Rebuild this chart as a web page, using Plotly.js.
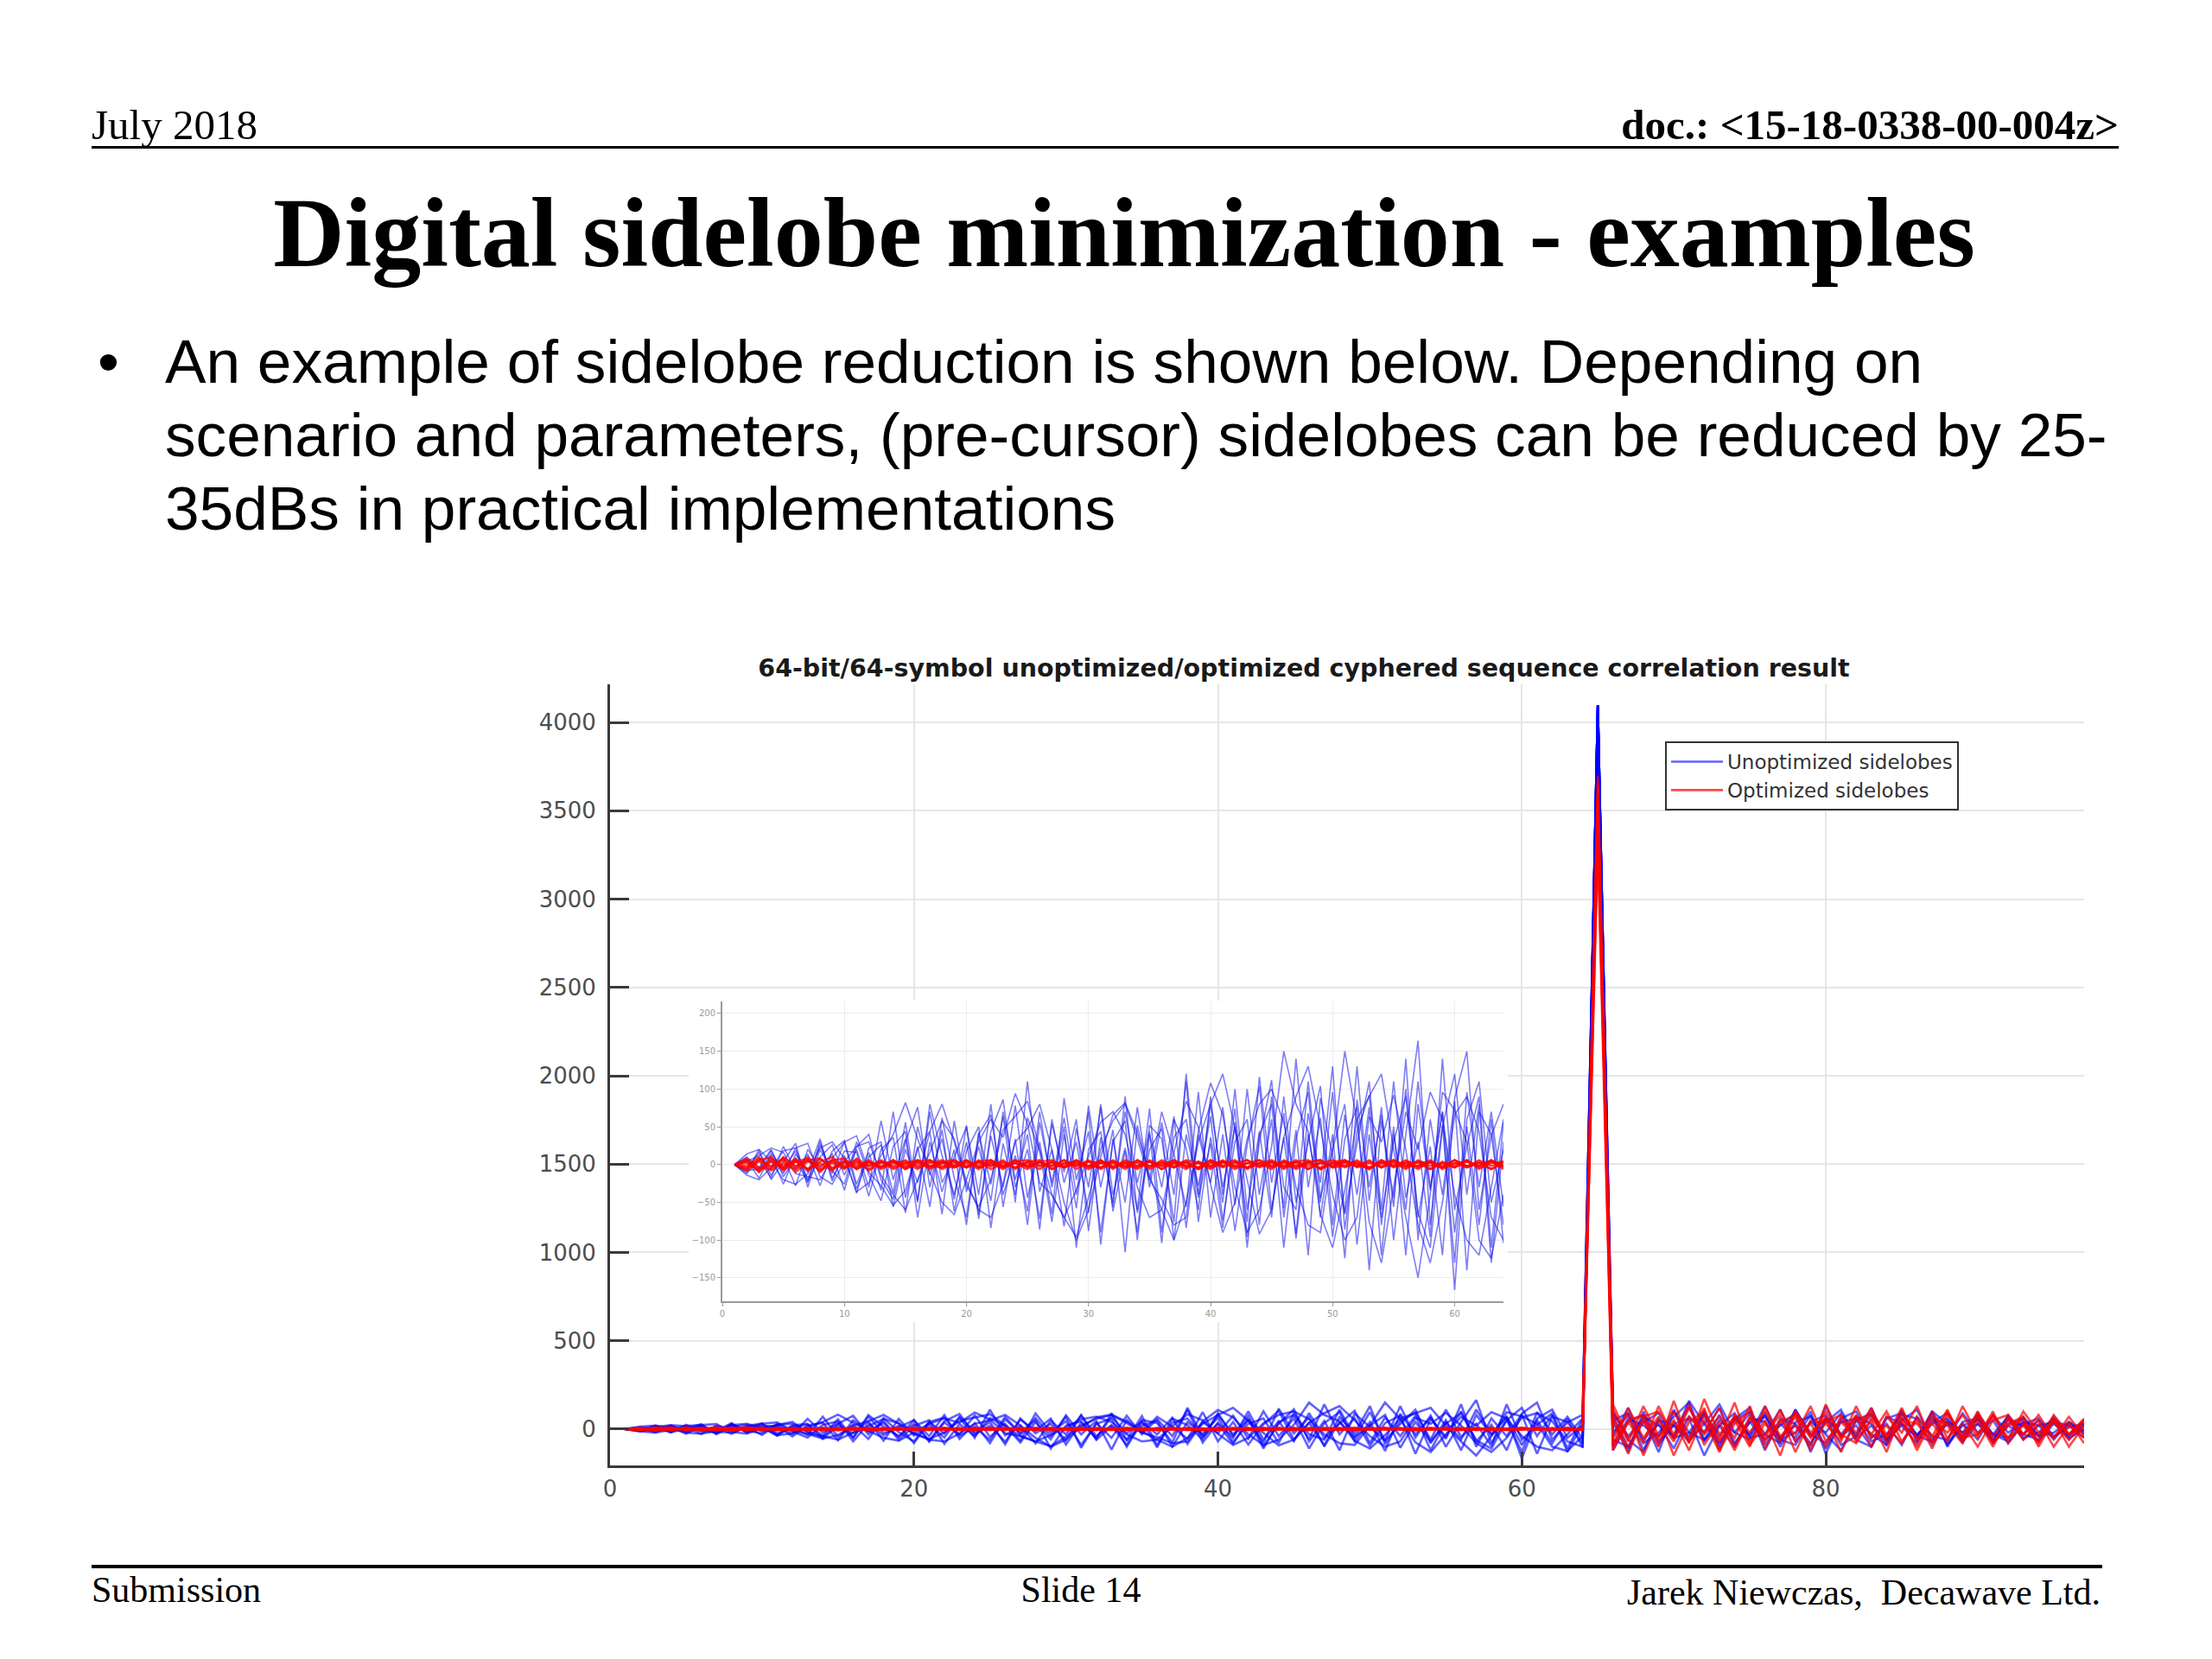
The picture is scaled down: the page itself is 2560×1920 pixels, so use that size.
<!DOCTYPE html>
<html>
<head>
<meta charset="utf-8">
<script src="https://cdn.plot.ly/plotly-3.0.1.min.js"></script>
<style>
  html, body { margin: 0; padding: 0; background: #fff; }
  body { width: 2560px; height: 1920px; position: relative; overflow: hidden; }
  .t { position: absolute; white-space: nowrap; color: #000; line-height: 1; z-index: 5; }
  .serif { font-family: "Liberation Serif", "Times New Roman", serif; }
  .sans { font-family: "Liberation Sans", Arial, sans-serif; }
  .rule { position: absolute; background: #000; z-index: 5; }
</style>
</head>
<body>
<div id="main" style="position:absolute;left:0;top:0;width:2560px;height:1920px;z-index:1"></div>
<div id="inset" style="position:absolute;left:797px;top:1158px;width:948px;height:372px;z-index:2"></div>

<div class="t serif" style="left:106px;top:120px;font-size:49px;">July 2018</div>
<div class="t serif" style="right:108px;top:120px;font-size:49px;font-weight:bold;">doc.: &lt;15-18-0338-00-004z&gt;</div>
<div class="rule" style="left:106px;top:169px;width:2346px;height:3px;"></div>
<div class="t serif" style="left:-199px;width:3000px;text-align:center;top:213px;font-size:114px;font-weight:bold;">Digital sidelobe minimization - examples</div>
<div class="t sans" style="left:113px;top:376px;font-size:71.2px;line-height:85px;">•</div>
<div class="t sans" style="left:191px;top:376px;font-size:71.2px;line-height:85px;">An example of sidelobe reduction is shown below. Depending on<br>scenario and parameters, (pre-cursor) sidelobes can be reduced by 25-<br>35dBs in practical implementations</div>
<div class="rule" style="left:106px;top:1811px;width:2327px;height:4px;"></div>
<div class="t serif" style="left:106px;top:1819px;font-size:42px;">Submission</div>
<div class="t serif" style="left:1051px;width:400px;text-align:center;top:1819px;font-size:42px;">Slide 14</div>
<div class="t serif" style="right:129px;top:1822px;font-size:42px;">Jarek Niewczas,&nbsp; Decawave Ltd.</div>

<script>
// ---------------- DATA ----------------
const CHART_TITLE = "64-bit/64-symbol unoptimized/optimized cyphered sequence correlation result";
const NAME_UNOPT = "Unoptimized sidelobes";
const NAME_OPT = "Optimized sidelobes";

const X_TICKS = [0, 20, 40, 60, 80];
const Y_TICKS = [0, 500, 1000, 1500, 2000, 2500, 3000, 3500, 4000];
const INSET_X_TICKS = [0, 10, 20, 30, 40, 50, 60];
const INSET_Y_TICKS = [-150, -100, -50, 0, 50, 100, 150, 200];

const PEAK_LAG = 65;
const UNOPT_PEAK = 4096;
const OPT_PEAKS = [3700, 3660, 3600, 3540, 3480, 3420, 3360, 3300];

// Unoptimized (blue) pre-cursor sidelobes, lags 1..64
const blue1 = [0,8,-10,14,-6,18,-22,10,26,-14,20,-30,58,-20,34,-48,80,12,-40,30,-66,44,86,-30,20,-72,54,-10,60,-88,36,-50,70,-24,44,-104,60,22,-60,90,-40,74,-96,30,112,-70,46,-120,88,10,-64,130,-48,76,-100,40,164,-80,52,-130,96,-30,70,-56];
const blue2 = [0,-12,6,-18,24,-8,14,-28,18,32,-26,16,-34,70,-44,24,-56,62,-18,-70,42,-26,64,-50,110,-36,20,-82,48,-30,76,-62,18,-90,52,34,-76,120,-44,28,-84,56,-110,40,80,-58,140,-30,62,-96,34,76,-140,58,-44,100,-70,24,-120,88,150,-60,38,80];
const blue3 = [0,14,20,4,-20,-26,-12,22,30,8,-36,-24,12,40,82,34,-10,-50,-66,-20,30,60,36,94,54,-24,-40,-70,-96,-44,20,58,80,34,-20,-46,-80,-70,44,108,66,-30,-90,-60,24,150,80,44,-66,-110,-34,60,90,120,20,-70,-150,-40,96,72,30,-100,-124,-40];
const blue4 = [0,-6,16,-14,10,-28,20,-4,14,-34,24,40,-20,-46,30,76,-30,46,-62,18,50,-84,28,-40,62,18,-76,40,-58,78,-30,46,-116,52,-20,70,14,-56,96,-70,40,-88,26,104,-60,36,-92,68,-24,130,-86,44,92,-60,110,-44,30,-96,140,-60,24,90,-110,56];
const blue5 = [0,10,-4,20,-16,8,-24,30,-18,12,-38,22,30,-56,20,-24,44,-66,58,-36,24,-48,70,-20,40,-86,60,-24,30,-64,80,-40,22,-60,74,-90,36,60,-40,80,-30,50,-76,116,-24,68,-98,40,-50,96,-66,28,110,-80,50,-120,80,-34,70,-166,60,110,-50,20];
const blue6 = [0,-14,-20,-4,18,22,28,-16,-26,4,24,30,-14,-40,-60,-20,16,58,34,-22,-60,-70,-26,30,48,80,20,-50,-100,-60,10,66,82,42,-14,-60,-100,-50,30,80,120,48,-20,-92,-60,36,90,130,50,-40,-100,-70,64,30,92,20,-80,-130,-50,66,90,44,-70,-100];
const blue7 = [0,6,-18,12,-26,14,-10,34,-22,18,16,-42,20,36,-64,50,-14,34,-46,52,-72,38,-30,78,-44,30,-66,88,-20,44,-90,30,58,-100,40,-30,64,-84,40,-24,76,-54,100,-40,60,-110,34,96,-70,40,-124,86,-30,66,-56,140,-100,60,-40,84,-140,70,40,-80];
const blue8 = [0,-10,20,-20,4,28,-30,20,-8,-26,30,-14,-48,24,44,-70,30,-36,20,-80,40,66,-40,12,-62,70,-30,50,-110,20,44,-56,90,-64,20,48,-100,40,-28,64,-74,30,60,-80,90,-30,-60,110,-44,20,80,-106,40,-70,30,90,-64,-110,50,120,-40,80,-130,30];
const blue9 = [0,4,12,22,16,-12,-16,-20,8,30,38,-10,-28,-54,-34,20,44,80,30,-28,-56,-20,46,64,84,20,-40,-70,-34,10,56,70,40,-30,-70,-60,16,84,50,-26,-90,-50,34,80,100,56,-30,-80,-90,20,150,56,-76,-130,-30,70,20,96,60,-40,-100,-120,-30,60];
const blue10 = [0,-8,-6,18,-12,22,-20,26,-12,30,-32,10,26,-38,56,-50,70,-24,10,50,-40,80,-56,34,-80,56,-24,62,-40,70,-106,34,-50,76,-30,56,-40,110,-76,36,-50,100,-60,44,-70,90,-50,30,104,-80,66,-40,76,-120,40,-60,110,-30,70,-90,50,-80,60,-104];

// Unoptimized (blue) post-cursor sidelobes, lags 66..97
const blue1Post = [-90,60,20,-40,110,-70,30,140,-20,-60,80,-100,40,70,-30,-120,50,90,-60,20,-80,100,30,-50,60,-30,-70,40,20,-50,30,-20];
const blue2Post = [70,-110,40,90,-50,-20,100,-80,60,-30,130,-60,-90,40,80,-40,20,-100,60,90,-40,-70,50,-20,80,-60,30,60,-40,-20,40,-30];
const blue3Post = [-40,120,-80,-20,70,150,-60,20,-100,60,40,-70,110,-30,-80,60,100,-50,30,-90,70,-40,-60,90,-20,50,-80,30,60,-40,10,30];
const blue4Post = [100,-60,-130,50,20,-70,90,-40,60,120,-90,30,-50,80,-110,40,60,-30,-90,50,110,-60,30,-40,70,-80,20,-30,50,-60,40,-10];
const blue5Post = [-120,40,80,-90,30,60,-150,20,90,-50,-30,110,-70,40,-20,90,-60,-100,70,30,-40,80,-90,20,50,-30,70,-50,-20,60,-30,20];
const blue6Post = [50,90,-60,30,-110,70,-20,120,-80,40,-60,20,90,-130,60,-30,70,30,-70,100,-40,60,-80,30,-60,80,-20,40,-70,30,-40,50];
const blue7Post = [-60,-100,70,20,-40,130,-70,50,-20,90,-120,60,30,-80,40,110,-50,20,-90,60,-30,40,90,-70,30,-40,60,-60,20,40,-50,0];
const blue8Post = [90,-40,60,-130,100,-20,-60,80,-90,40,70,-50,20,-100,130,-40,50,-70,-30,80,60,-90,40,-20,30,-70,50,20,-40,70,-30,30];
const blue9Post = [-20,80,-120,60,-50,160,30,-90,70,-40,90,-60,-20,100,-140,50,-30,80,-60,110,-70,30,60,-80,90,-30,-50,70,-40,50,-60,20];
const blue10Post = [40,-130,100,-70,20,-40,80,-110,50,100,-30,-80,110,-40,60,-90,-40,120,-70,30,-50,100,-100,40,60,-70,80,-30,-60,40,20,-50];

// Optimized (red) pre-cursor sidelobes, lags 1..64
const red1 = [0,4,-6,8,-2,6,-8,4,10,-4,2,-6,4,-2,6,-4,2,6,-4,2,-6,4,-2,6,-4,2,-2,6,-6,4,2,-4,6,-2,4,-6,2,4,-4,6,-2,4,-6,2,6,-2,-4,4,-6,2,4,-2,6,-4,2,-6,4,2,-4,6,-2,4,-6,2];
const red2 = [0,-6,8,-4,6,-10,4,-2,6,8,-6,4,-4,6,-2,4,-6,2,4,-4,6,-2,4,-4,2,-6,4,-2,6,-4,4,-2,2,-6,4,-2,6,-4,2,-2,4,-6,2,6,-4,2,-2,4,6,-4,-2,6,-4,2,-2,6,-4,4,-6,2,4,-2,6,-4];
const red3 = [0,8,-4,-6,10,-2,6,-8,2,-6,8,-2,4,-6,2,6,-4,4,-2,6,-4,2,-6,4,6,-2,4,-4,2,-2,6,-6,4,2,-4,6,-2,2,-6,4,-4,2,6,-2,4,-6,4,-2,2,6,-4,2,-6,4,-2,4,2,-6,4,-2,6,-4,2,4];
const red4 = [0,-4,6,10,-8,4,-6,8,-4,2,-4,6,-6,2,4,-2,6,-6,2,-4,4,6,-2,2,-6,4,-2,6,-2,4,-6,2,-4,6,-2,4,-4,6,2,-6,4,-2,-4,6,-2,4,2,-6,4,-2,6,-4,2,-2,4,-4,6,-2,2,-4,6,-6,4,-2];
const red5 = [0,6,-10,4,-4,8,-6,2,-8,6,-2,4,-4,6,-6,2,-2,4,6,-4,2,-2,6,-6,4,-2,2,-4,6,-2,-4,6,-2,4,-6,2,4,-2,-4,6,-2,4,-4,2,-6,6,-2,2,-4,4,6,-2,-4,2,6,-2,4,-6,2,-4,4,-2,6,-2];
const red6 = [0,-8,4,-2,8,-4,10,-6,4,-2,6,-8,2,4,-4,6,-2,-4,6,-2,4,-6,2,-4,4,6,-6,2,-2,6,-4,4,-2,-4,6,-2,2,-6,4,-2,6,-4,2,-2,4,-4,6,-6,2,-2,4,2,-6,6,-4,2,-2,4,-4,6,-2,2,-6,4];
const red7 = [0,2,-8,6,-6,4,8,-10,6,-4,4,-2,6,-4,2,-6,4,2,-2,6,-4,2,-4,6,-2,4,-6,2,4,-2,6,-4,2,-2,4,-6,6,-2,4,-4,2,6,-4,2,-2,4,-6,2,6,-4,2,-2,4,-4,6,-2,-2,6,-4,2,-4,6,-2,4];
const red8 = [0,-2,10,-8,2,-6,6,8,-6,4,-6,2,-2,4,-6,4,6,-2,-4,4,-2,6,-4,2,-2,4,6,-4,2,-6,2,4,-6,6,-2,2,-4,4,-6,2,4,-2,6,-4,2,-2,4,6,-6,2,-2,4,-4,6,-2,2,-6,4,-2,6,-4,2,4,-6];

// Optimized (red) post-cursor sidelobes, lags 66..97
const red1Post = [110,-70,130,-40,50,-120,80,-60,150,-90,30,-70,100,-20,60,-130,50,80,-50,40,-100,70,20,-80,90,-40,60,-60,30,-50,70,-40];
const red2Post = [-90,120,-50,70,-150,40,100,-70,50,-100,130,-40,20,-90,140,-50,70,-30,100,-70,50,-110,80,-30,70,-80,20,50,-70,80,-30,20];
const red3Post = [50,-140,70,100,-30,140,-90,40,-120,60,-50,110,-70,30,-100,70,-20,120,-80,50,30,-70,100,-50,-30,80,-60,100,-20,40,-60,50];
const red4Post = [-120,40,-80,130,-50,70,-20,120,-100,70,-30,80,-130,50,30,-70,130,-50,20,-80,70,-40,110,-70,50,-100,60,-30,80,-50,40,-80];
const red5Post = [140,-50,40,-100,160,-70,50,-130,80,-20,100,-50,70,-120,40,80,-70,50,-130,100,-50,30,-70,130,-30,70,-50,20,-80,60,-30,50];
const red6Post = [-50,90,-150,50,-70,120,-30,70,-50,130,-110,40,80,-50,100,-30,-80,60,-40,120,-70,100,-50,30,-100,50,80,-30,50,-100,20,-50];
const red7Post = [70,-100,50,-50,100,-80,170,-30,70,-70,50,-150,100,-40,70,-50,80,-100,70,-20,130,-80,40,-50,100,-70,30,70,-100,50,-30,60];
const red8Post = [-100,50,80,-70,40,-50,120,-120,30,100,-70,50,-30,130,-70,40,-50,100,-30,70,-120,50,-20,80,-50,100,-80,30,-40,50,-100,20];

const bluePre  = [blue1, blue2, blue3, blue4, blue5, blue6, blue7, blue8, blue9, blue10];
const bluePost = [blue1Post, blue2Post, blue3Post, blue4Post, blue5Post, blue6Post, blue7Post, blue8Post, blue9Post, blue10Post];
const redPre   = [red1, red2, red3, red4, red5, red6, red7, red8];
const redPost  = [red1Post, red2Post, red3Post, red4Post, red5Post, red6Post, red7Post, red8Post];

// ---------------- BUILD ----------------
function lagsFrom(start, n) { return Array.from({length: n}, (_, i) => start + i); }

function fullSeries(pre, peak, post) {
  const x = lagsFrom(1, pre.length).concat([PEAK_LAG], lagsFrom(PEAK_LAG + 1, post.length));
  const y = pre.concat([peak], post);
  return {x, y};
}

const BLUE_MAIN = 'rgba(0,0,255,0.62)';
const RED_MAIN = 'rgba(255,0,0,0.72)';
const tickFont = {family: 'DejaVu Sans, sans-serif', size: 26, color: '#4d4d4d'};

const mainTraces = [];
bluePre.forEach((pre, i) => {
  const s = fullSeries(pre, UNOPT_PEAK, bluePost[i]);
  mainTraces.push({type: 'scatter', mode: 'lines', x: s.x, y: s.y, name: NAME_UNOPT,
    legendgroup: 'u', showlegend: i === 0, line: {color: BLUE_MAIN, width: 2.6}, hoverinfo: 'skip'});
});
redPre.forEach((pre, i) => {
  const s = fullSeries(pre, OPT_PEAKS[i], redPost[i]);
  mainTraces.push({type: 'scatter', mode: 'lines', x: s.x, y: s.y, name: NAME_OPT,
    legendgroup: 'o', showlegend: i === 0, line: {color: RED_MAIN, width: 2.6}, hoverinfo: 'skip'});
});

const PL = 706, PR = 2412, PT = 792, PB = 1696, W = 2560, H = 1920;

const mainLayout = {
  width: W, height: H,
  margin: {l: PL, r: W - PR, t: PT, b: H - PB, pad: 0},
  paper_bgcolor: '#ffffff', plot_bgcolor: '#ffffff',
  title: {text: '<b>' + CHART_TITLE + '</b>', x: 1509 / W, xanchor: 'center', y: 1 - 773 / H, yanchor: 'middle',
          font: {family: 'DejaVu Sans, sans-serif', size: 28.5, color: '#1a1a1a'}},
  showlegend: true,
  legend: {x: (1927 - PL) / (PR - PL), y: (PB - 858) / (PB - PT), xanchor: 'left', yanchor: 'top',
           bgcolor: '#ffffff', bordercolor: '#333333', borderwidth: 2, itemwidth: 60,
           font: {family: 'DejaVu Sans, sans-serif', size: 23, color: '#333333'}, tracegroupgap: 0},
  xaxis: {range: [0, 97], tickvals: X_TICKS, showgrid: true, gridcolor: '#e6e6e6', gridwidth: 2,
          zeroline: false, showline: true, linecolor: '#3a3a3a', linewidth: 3, ticks: 'inside', ticklen: 16,
          tickwidth: 3, tickcolor: '#3a3a3a', tickfont: tickFont, ticklabelstandoff: 2, fixedrange: true},
  yaxis: {range: [-206, 4216], tickvals: Y_TICKS, tickformat: 'd', showgrid: true, gridcolor: '#e6e6e6', gridwidth: 2,
          zeroline: false, showline: true, linecolor: '#3a3a3a', linewidth: 3, ticks: 'inside', ticklen: 22,
          tickwidth: 3, tickcolor: '#3a3a3a', tickfont: tickFont, ticklabelstandoff: 8, fixedrange: true}
};

const insetTraces = [];
bluePre.forEach((pre) => {
  insetTraces.push({type: 'scatter', mode: 'lines', x: lagsFrom(1, pre.length), y: pre,
    line: {color: 'rgba(20,20,235,0.55)', width: 1.6}, hoverinfo: 'skip', showlegend: false});
});
redPre.forEach((pre) => {
  insetTraces.push({type: 'scatter', mode: 'lines', x: lagsFrom(1, pre.length), y: pre,
    line: {color: 'rgba(255,0,0,0.75)', width: 2.4}, hoverinfo: 'skip', showlegend: false});
});

const insetFont = {family: 'DejaVu Sans, sans-serif', size: 10, color: '#9a9a9a'};
const insetLayout = {
  width: 948, height: 372,
  margin: {l: 39, r: 5, t: 1, b: 24, pad: 0},
  paper_bgcolor: '#ffffff', plot_bgcolor: '#ffffff', showlegend: false,
  xaxis: {range: [0, 64], tickvals: INSET_X_TICKS, showgrid: true, gridcolor: '#ececec', gridwidth: 1,
          zeroline: false, showline: true, linecolor: '#9a9a9a', linewidth: 2, ticks: 'outside', ticklen: 4,
          tickcolor: '#9a9a9a', tickfont: insetFont, fixedrange: true},
  yaxis: {range: [-181, 216], tickvals: INSET_Y_TICKS, showgrid: true, gridcolor: '#ececec', gridwidth: 1,
          zeroline: false, showline: true, linecolor: '#9a9a9a', linewidth: 2, ticks: 'outside', ticklen: 4,
          tickcolor: '#9a9a9a', tickfont: insetFont, fixedrange: true}
};

const cfg = {staticPlot: true, displayModeBar: false};
Plotly.newPlot('main', mainTraces, mainLayout, cfg);
Plotly.newPlot('inset', insetTraces, insetLayout, cfg);
</script>
</body>
</html>
